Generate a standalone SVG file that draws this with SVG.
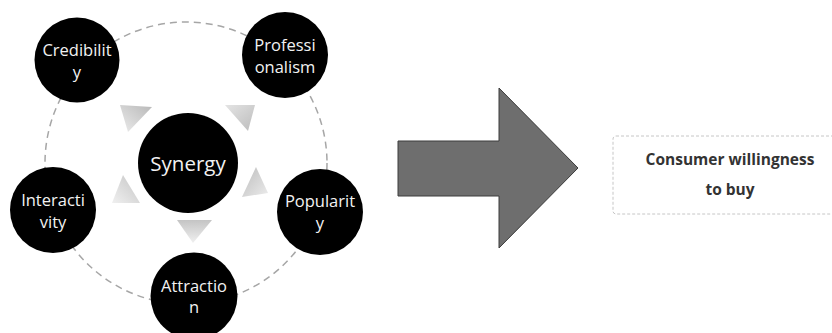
<svg xmlns="http://www.w3.org/2000/svg" width="832" height="333" viewBox="0 0 832 333">
<defs>
<linearGradient id="gTL" x1="1" y1="0" x2="0" y2="1"><stop offset="0" stop-color="#b8b8b8"/><stop offset="1" stop-color="#ececec"/></linearGradient>
<linearGradient id="gTR" x1="0" y1="0" x2="1" y2="1"><stop offset="0" stop-color="#e4e4e4"/><stop offset="1" stop-color="#bcbcbc"/></linearGradient>
<linearGradient id="gL" x1="1" y1="0" x2="0" y2="1"><stop offset="0" stop-color="#c4c4c4"/><stop offset="1" stop-color="#f0f0f0"/></linearGradient>
<linearGradient id="gR" x1="0" y1="0" x2="1" y2="1"><stop offset="0" stop-color="#bcbcbc"/><stop offset="1" stop-color="#ececec"/></linearGradient>
<linearGradient id="gB" x1="0" y1="0" x2="0" y2="1"><stop offset="0" stop-color="#c4c4c4"/><stop offset="1" stop-color="#f0f0f0"/></linearGradient>
</defs>
<style>
.node{fill:#000;}
.lbl{font-family:"Open Sans","Noto Sans",sans-serif;font-size:16.5px;fill:#f2f2f2;text-anchor:middle;}
.big{font-size:20.5px;}
.ring{fill:none;stroke:#a6a6a6;stroke-width:1.5;stroke-dasharray:7 5;}
.box{fill:#fff;stroke:#c6c6c6;stroke-width:1;stroke-dasharray:3 2;}
.out{font-family:"Open Sans","Noto Sans",sans-serif;font-size:15.5px;font-weight:bold;fill:#333;text-anchor:middle;}
</style>
<rect width="832" height="333" fill="#fff"/>
<g id="connectors">
<circle class="ring" cx="186" cy="163" r="141"/>
<polygon points="120,105 152,107 128,132" fill="url(#gTL)"/>
<polygon points="225,105 255,105 248,131" fill="url(#gTR)"/>
<polygon points="256,167 268,193 242,197" fill="url(#gR)"/>
<polygon points="123,175 140,203 112,203" fill="url(#gL)"/>
<polygon points="177,220 212,220 193,243" fill="url(#gB)"/>
<polygon points="398,141 499,141 499,88 578,168 499,248 499,196 398,196" fill="#6e6e6e" stroke="#3c3c3c" stroke-width="1"/>
</g>
<g id="synergy">
<circle class="node" cx="188" cy="163" r="50"/>
<text class="lbl big" x="188" y="171">Synergy</text>
</g>
<g id="credibility">
<circle class="node" cx="77" cy="60" r="42.5"/>
<text class="lbl" x="77" y="56">Credibilit</text>
<text class="lbl" x="77" y="78">y</text>
</g>
<g id="professionalism">
<circle class="node" cx="285" cy="55" r="43"/>
<text class="lbl" x="285" y="51">Professi</text>
<text class="lbl" x="285" y="73">onalism</text>
</g>
<g id="interactivity">
<circle class="node" cx="53" cy="210" r="43"/>
<text class="lbl" x="53" y="206">Interacti</text>
<text class="lbl" x="53" y="228">vity</text>
</g>
<g id="popularity">
<circle class="node" cx="320" cy="212" r="43"/>
<text class="lbl" x="320" y="207">Popularit</text>
<text class="lbl" x="320" y="229">y</text>
</g>
<g id="attraction">
<circle class="node" cx="194" cy="296" r="43.5"/>
<text class="lbl" x="194" y="292">Attractio</text>
<text class="lbl" x="194" y="313">n</text>
</g>
<g id="consumer">
<rect class="box" x="613" y="136" width="230" height="78" rx="3"/>
<text class="out" x="730" y="165">Consumer willingness</text>
<text class="out" x="730" y="195">to buy</text>
</g>
</svg>
